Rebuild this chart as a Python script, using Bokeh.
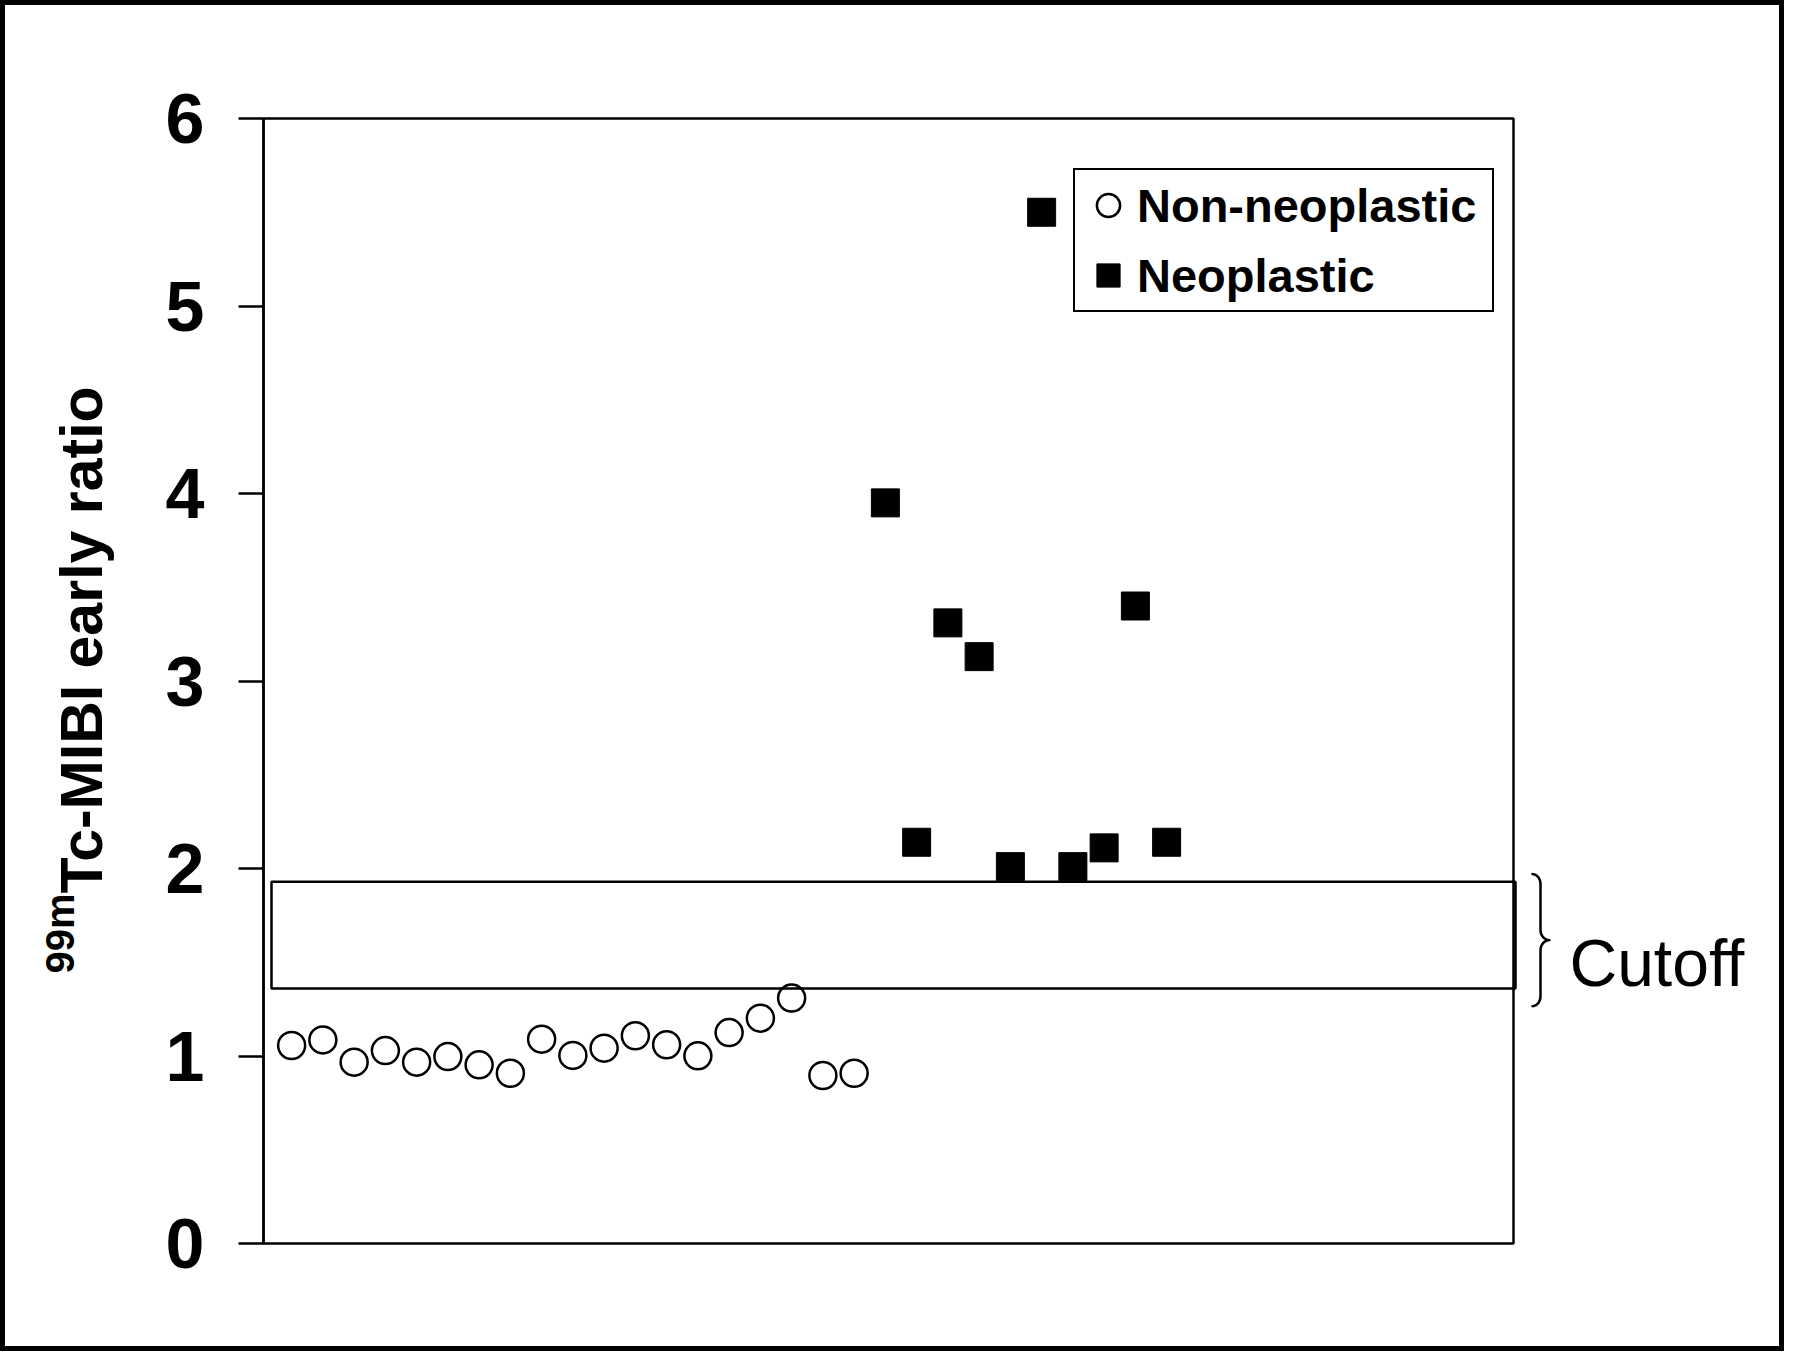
import numpy as np
from bokeh.plotting import figure
from bokeh.models import (Range1d, Label, BoxAnnotation, PolyAnnotation, Legend,
                          LegendItem, FixedTicker)
from bokeh.embed import file_html
from bokeh.resources import INLINE

# ---------------- data ----------------
non_x = list(range(1, 20))
non_y = [1.056, 1.086, 0.967, 1.029, 0.967, 0.997, 0.953, 0.908, 1.090, 1.003,
         1.042, 1.108, 1.060, 1.001, 1.125, 1.202, 1.309, 0.896, 0.908]
neo_x = list(range(20, 30))
neo_y = [3.95, 2.14, 3.31, 3.13, 2.01, 5.50, 2.01, 2.11, 3.40, 2.14]
y_ticks = [0, 1, 2, 3, 4, 5, 6]
cutoff_low, cutoff_high = 1.36, 1.93
legend_labels = ["Non-neoplastic", "Neoplastic"]
y_label_sup = "99m"
y_label_main = "Tc-MIBI early ratio"
cutoff_text = "Cutoff"

# ---------------- layout ----------------
X0, X1 = 0.1, 40.1          # plot box data extent
Y0, Y1 = 0, 6
CW, CH = 1774, 1341         # canvas (inside the page border)
BOX_L, BOX_T = 258, 113     # plot box position on the canvas (px)
BOX_W, BOX_H = 1250, 1125
PXX = BOX_W / (X1 - X0)
PXY = BOX_H / (Y1 - Y0)
XS0 = X0 - BOX_L / PXX
XS1 = XS0 + CW / PXX
YE1 = Y1 + BOX_T / PXY
YE0 = YE1 - CH / PXY
FONT = "Liberation Sans"


def xd(c):  # canvas px (from left) -> data x
    return XS0 + c / PXX


def yd(c):  # canvas px (from top) -> data y
    return YE1 - c / PXY


p = figure(frame_width=CW, frame_height=CH,
           x_range=Range1d(XS0, XS1), y_range=Range1d(YE0, YE1),
           output_backend="svg", toolbar_location=None,
           x_axis_location=None, y_axis_location="left",
           min_border_left=0, min_border_right=0,
           min_border_top=0, min_border_bottom=0)
p.styles = {"border": "5px solid black"}
p.background_fill_color = "white"
p.border_fill_color = "white"
p.grid.visible = False
p.outline_line_color = None

ax = p.yaxis[0]
ax.fixed_location = X0
ax.bounds = (Y0, Y1)
ax.ticker = FixedTicker(ticks=y_ticks)
ax.axis_line_width = 2.5
ax.axis_line_color = "black"
ax.major_tick_line_width = 2.5
ax.major_tick_line_color = "black"
ax.major_tick_out = 25
ax.major_tick_in = 0
ax.minor_tick_out = 0
ax.minor_tick_in = 0
ax.major_label_text_font = FONT
ax.major_label_text_font_style = "bold"
ax.major_label_text_font_size = "70px"
ax.major_label_text_color = "black"
ax.major_label_standoff = 34

# plot box
p.add_layout(BoxAnnotation(left=X0, right=X1, bottom=Y0, top=Y1, fill_alpha=0,
                           line_color="black", line_width=2.5, line_alpha=1))

# cutoff band
p.add_layout(BoxAnnotation(bottom=cutoff_low, top=cutoff_high,
                           left=X0 + 8 / PXX, right=X1 + 2 / PXX,
                           fill_alpha=0, line_color="black", line_width=2.5,
                           line_alpha=1))

# data
r1 = p.scatter(non_x, non_y, marker="circle", size=27, fill_color="white",
               line_color="black", line_width=2.5)
r2 = p.scatter(neo_x, neo_y, marker="square", size=28, fill_color="black",
               line_color="black", line_width=1)

# legend
legend = Legend(items=[LegendItem(label=legend_labels[0], renderers=[r1]),
                       LegendItem(label=legend_labels[1], renderers=[r2])],
                location=(1068, CH - 307),
                label_text_font=FONT, label_text_font_style="bold",
                label_text_font_size="47px", label_text_color="black",
                glyph_width=58, glyph_height=62, label_height=62, label_width=351,
                label_standoff=0, padding=4, spacing=8, margin=0,
                border_line_color="black", border_line_width=2.5, border_line_alpha=1,
                background_fill_color="white", background_fill_alpha=1)
p.add_layout(legend)

# y-axis label (superscript + main text), reading upward
p.add_layout(Label(x=xd(54), y=yd(968), text=y_label_sup, angle=np.pi / 2,
                   text_align="left", text_baseline="alphabetic",
                   text_font=FONT, text_font_style="bold", text_font_size="40px",
                   text_color="black"))
p.add_layout(Label(x=xd(76), y=yd(888), text=y_label_main, angle=np.pi / 2,
                   text_align="left", text_baseline="alphabetic",
                   text_font=FONT, text_font_style="bold", text_font_size="59px",
                   text_color="black"))

# brace beside the cutoff band
H = 132.0
top_val = cutoff_high + 0.04
t = np.linspace(0, np.pi / 2, 12)
seg1 = np.column_stack([19 + 8 * np.sin(t), 10 - 10 * np.cos(t)])
seg2 = np.column_stack([36 - 9 * np.cos(t), H / 2 - 10 + 10 * np.sin(t)])
upper = np.vstack([seg1, seg2])
lower = np.column_stack([upper[::-1, 0], H - upper[::-1, 1]])[1:]
path = np.vstack([upper, lower])
ret = np.vstack([path, path[-2::-1]])
bx = [X1 + v / PXX for v in ret[:, 0]]
by = [top_val - v / PXY for v in ret[:, 1]]
p.add_layout(PolyAnnotation(xs=bx, ys=by, fill_alpha=0, line_color="black",
                            line_width=2.5, line_alpha=1, line_join="round"))

p.add_layout(Label(x=xd(1564), y=yd(957), text=cutoff_text,
                   text_align="left", text_baseline="alphabetic",
                   text_font=FONT, text_font_size="66px", text_color="black"))

open("out.html", "w").write(file_html(p, INLINE))
